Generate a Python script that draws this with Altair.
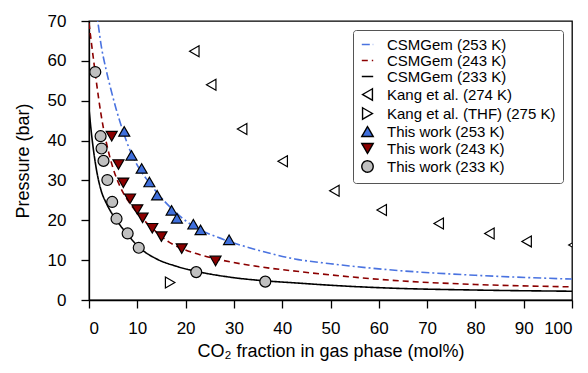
import altair as alt
import pandas as pd

series_names = [
    "CSMGem (253 K)", "CSMGem (243 K)", "CSMGem (233 K)",
    "Kang et al. (274 K)", "Kang et al. (THF) (275 K)",
    "This work (253 K)", "This work (243 K)", "This work (233 K)",
]

# CSMGem model curves
csm253_x = [1.4, 1.8, 2.5, 3.5, 4.5, 5.6, 7.0, 8.5, 10.4, 12.0, 13.9, 17.4, 21.5, 26.3, 30, 35, 42.6, 50, 62, 80, 100]
csm253_p = [73, 70, 64, 58, 53, 48, 42.5, 37.5, 33, 30.2, 27.2, 22.6, 18.6, 15.9, 14.3, 12.5, 10.3, 9.1, 7.6, 6.2, 5.25]

csm243_x = [0, 0.5, 1.0, 1.5, 2.5, 3.5, 5, 6.5, 8.5, 10.5, 12.5, 16.5, 22, 26, 35, 43, 50, 62, 80, 100]
csm243_p = [69.5, 64.5, 59.7, 55, 46.5, 40, 33, 28.3, 24.2, 21.2, 18.7, 14.6, 11.7, 10.4, 8.4, 7.2, 6.3, 5.0, 3.9, 3.3]

csm233_x = [0, 0.4, 1.5, 2.5, 3.5, 4.5, 5.7, 8.0, 10.2, 14, 18, 22.2, 30, 36.5, 42.6, 50, 62, 80, 100]
csm233_p = [48, 43, 33, 27.5, 24.5, 22.2, 20.0, 16.4, 13.4, 10.3, 8.5, 7.2, 5.6, 4.8, 4.3, 3.7, 3.0, 2.5, 2.2]

# Measured points
kang274_x = [21.8, 25.3, 31.7, 40.1, 50.8, 60.6, 72.4, 82.9, 90.6, 100.3]
kang274_p = [62.4, 54.0, 42.9, 34.8, 27.4, 22.6, 19.2, 16.7, 14.7, 13.8]

kangthf_x = [16.8]
kangthf_p = [4.4]

tw253_x = [7.3, 8.8, 10.9, 12.5, 14.1, 17.1, 18.2, 21.6, 23.1, 29.0]
tw253_p = [42.3, 36.3, 33.0, 29.6, 26.3, 22.5, 20.5, 19.0, 17.6, 15.1]

tw243_x = [4.7, 6.1, 7.1, 8.5, 10.0, 11.1, 13.1, 15.0, 19.2, 26.2]
tw243_p = [41.1, 34.0, 29.4, 25.4, 22.7, 20.6, 18.0, 15.9, 12.9, 9.8]

tw233_x = [1.3, 2.4, 2.6, 3.0, 3.8, 4.8, 5.7, 8.0, 10.3, 22.2, 36.5]
tw233_p = [57.2, 41.1, 38.0, 34.9, 30.1, 24.6, 20.4, 16.7, 13.1, 7.0, 4.6]


def table(name, xs, ps):
    return pd.DataFrame({"series": name, "x": xs, "p": ps})


lines_df = pd.concat([
    table(series_names[0], csm253_x, csm253_p),
    table(series_names[1], csm243_x, csm243_p),
    table(series_names[2], csm233_x, csm233_p),
])
points_df = pd.concat([
    table(series_names[3], kang274_x, kang274_p),
    table(series_names[4], kangthf_x, kangthf_p),
    table(series_names[5], tw253_x, tw253_p),
    table(series_names[6], tw243_x, tw243_p),
    table(series_names[7], tw233_x, tw233_p),
])

stroke_range = ["#4a73e0", "#8b0000", "#000000", "#000000", "#000000", "#000000", "#000000", "#000000"]
fill_range = ["transparent", "transparent", "transparent", "#ffffff", "#ffffff", "#3f6fdc", "#8b0000", "#c0c0c0"]
shape_range = ["stroke", "stroke", "stroke", "triangle-left", "triangle-right", "triangle-up", "triangle-down", "circle"]
dash_range = [[8, 3, 2, 3], [6, 4], [1, 0], [1, 0], [1, 0], [1, 0], [1, 0], [1, 0]]

legend = alt.Legend(
    title=None, orient="top-right", offset=9,
    labelFont="Liberation Sans", labelFontSize=15, labelColor="black", labelLimit=400,
    symbolSize=130, symbolStrokeWidth=1.4,
    strokeColor="#555555", fillColor="white", cornerRadius=3,
    padding=7, rowPadding=0, labelOffset=12,
)

x_enc = alt.X(
    "x:Q",
    scale=alt.Scale(domain=[0, 100], nice=False),
    axis=alt.Axis(values=list(range(0, 101, 10)), title="CO₂ fraction in gas phase (mol%)", titlePadding=6, labelPadding=12),
)
y_enc = alt.Y(
    "p:Q",
    scale=alt.Scale(domain=[0, 70], nice=False),
    axis=alt.Axis(values=list(range(0, 71, 10)), title="Pressure (bar)", titlePadding=15, labelPadding=15),
)

lines = alt.Chart(lines_df).mark_line(clip=True, strokeWidth=1.6, interpolate="monotone").encode(
    x=x_enc,
    y=y_enc,
    stroke=alt.Stroke("series:N", scale=alt.Scale(domain=series_names, range=stroke_range), legend=legend),
    strokeDash=alt.StrokeDash("series:N", scale=alt.Scale(domain=series_names, range=dash_range), legend=legend),
)

points = alt.Chart(points_df).mark_point(clip=True, filled=True, opacity=1, size=120, strokeWidth=1.2).encode(
    x=x_enc,
    y=y_enc,
    fill=alt.Fill("series:N", scale=alt.Scale(domain=series_names, range=fill_range), legend=legend),
    stroke=alt.Stroke("series:N", scale=alt.Scale(domain=series_names, range=stroke_range), legend=legend),
    shape=alt.Shape("series:N", scale=alt.Scale(domain=series_names, range=shape_range), legend=legend),
)

chart = alt.layer(lines, points).properties(
    width=483, height=279,
    padding={"left": 89, "top": 21, "right": 16, "bottom": 73},
    autosize="none",
).configure_view(
    stroke="black", strokeWidth=1.3,
).configure_axis(
    grid=False,
    domainColor="black", domainWidth=1.3,
    tickColor="black", tickWidth=1.3, tickSize=8,
    labelFont="Liberation Sans", labelFontSize=17, labelColor="black",
    titleFont="Liberation Sans", titleFontSize=18, titleFontWeight="normal", titleColor="black",
)

chart.save("out.html", embed_options={"renderer": "svg", "actions": False})
